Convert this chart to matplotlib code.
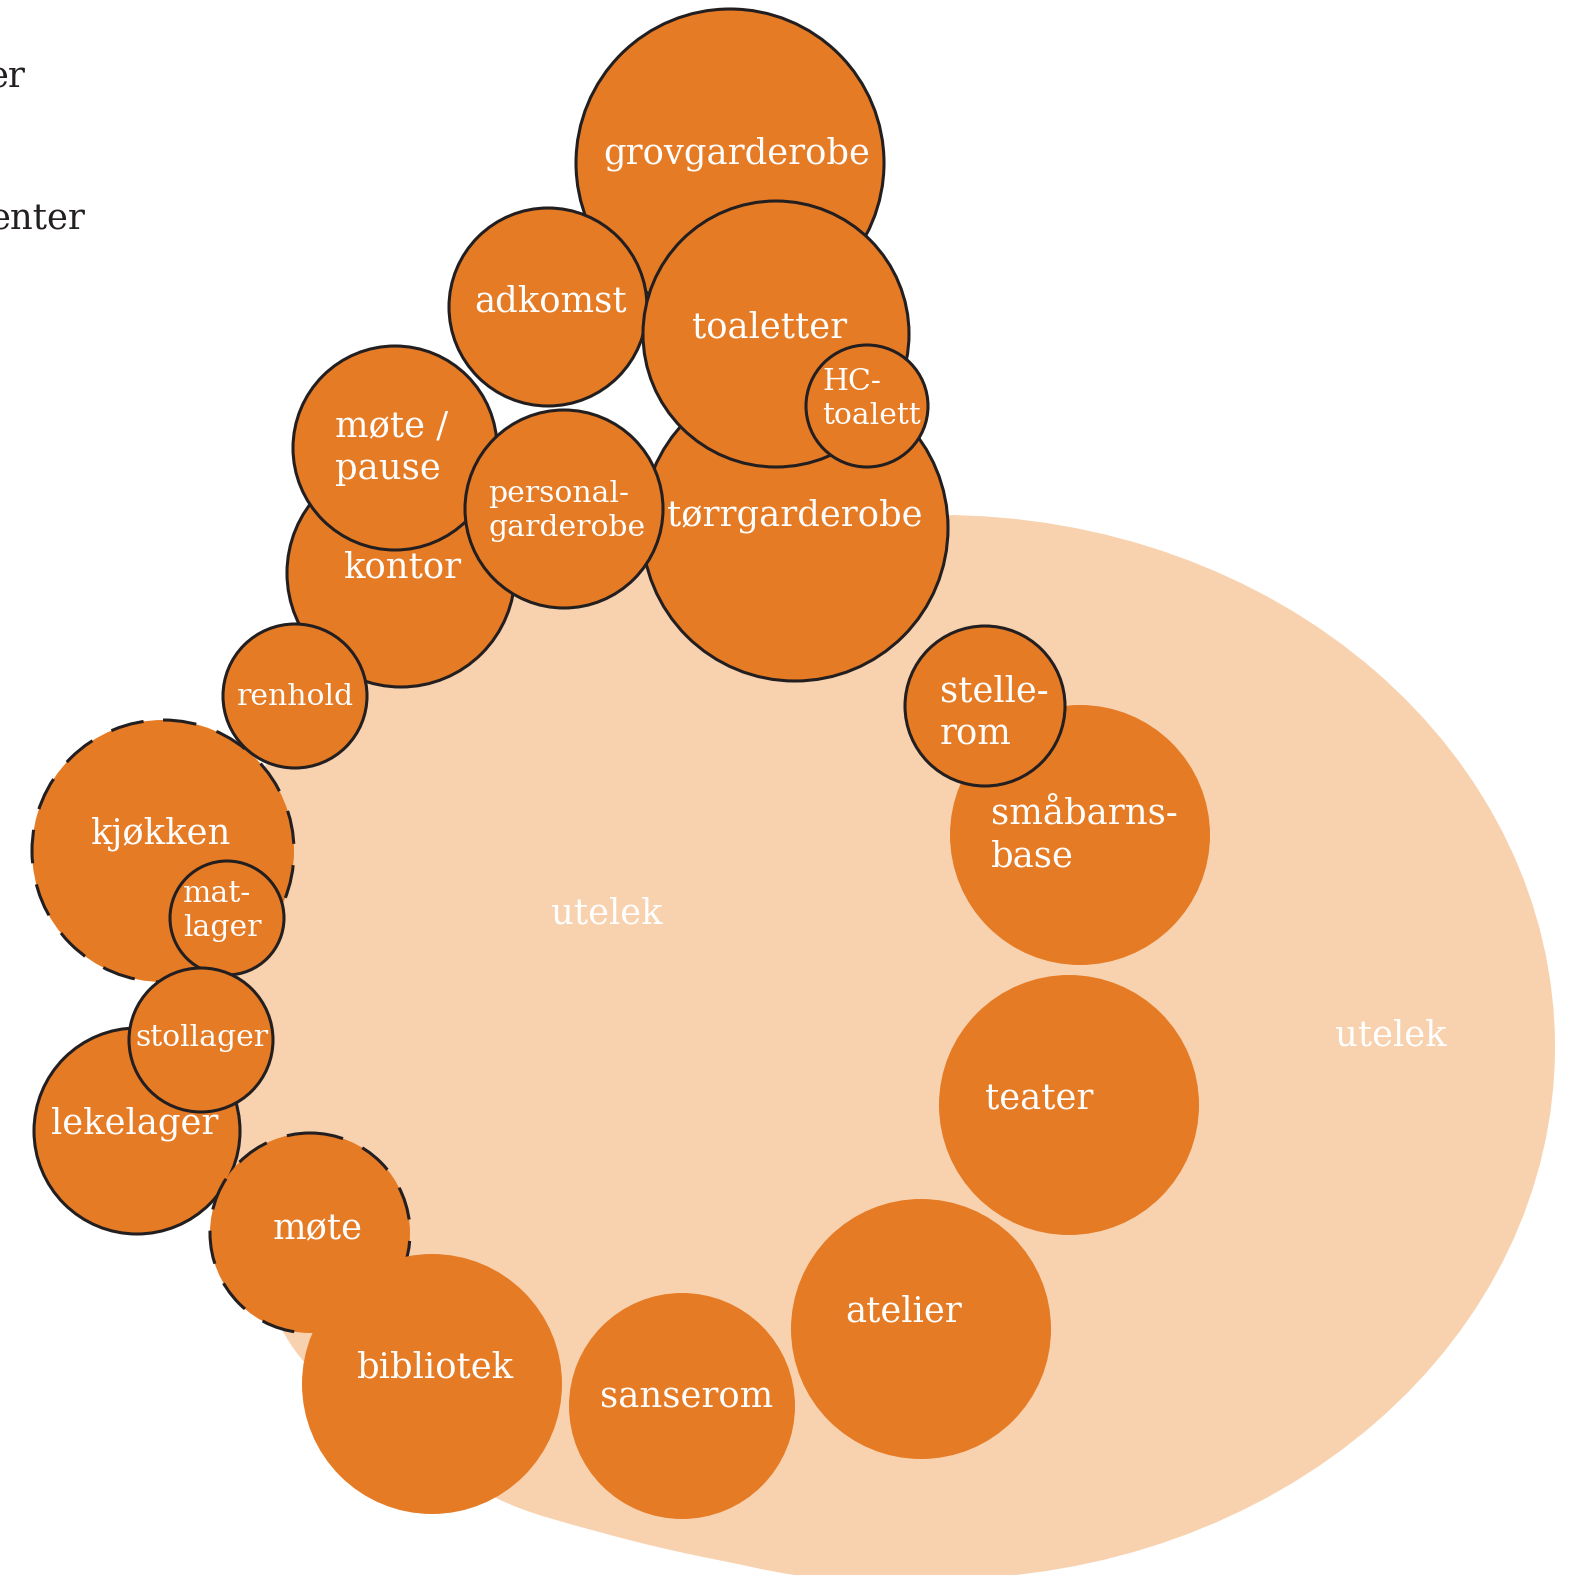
import numpy as np
import matplotlib.pyplot as plt
from matplotlib.patches import Circle, Ellipse, PathPatch
from matplotlib.path import Path

# rom: navn, sentrum, radius, kant
rom = ["grovgarderobe", "adkomst", "tørrgarderobe", "toaletter", "HC-toalett",
       "kontor", "møte / pause", "personalgarderobe", "kjøkken", "renhold",
       "matlager", "lekelager", "stollager", "møte", "bibliotek",
       "sanserom", "atelier", "teater", "småbarnsbase", "stellerom"]
rom_x = [730, 548, 795, 776, 867, 401, 395, 564, 163, 295,
         227, 137, 201, 310, 432, 682, 921, 1069, 1080, 985]
rom_y = [163, 307, 528, 334, 406, 573, 448, 509, 851, 696,
         918, 1131, 1040, 1233, 1384, 1406, 1329, 1105, 835, 706]
rom_r = [154, 99, 153, 133, 61, 114, 102, 99, 131, 72,
         57, 103, 72, 100, 130, 113, 130, 130, 130, 80]
kant = ["solid", "solid", "solid", "solid", "solid", "solid", "solid", "solid",
        "dashed", "solid", "solid", "solid", "solid", "dashed", "none",
        "none", "none", "none", "none", "solid"]

# tekster i sirklene
tekst = ["grovgarderobe", "adkomst", "tørrgarderobe", "toaletter", "HC-\ntoalett",
         "kontor", "møte /\npause", "personal-\ngarderobe", "kjøkken", "renhold",
         "mat-\nlager", "lekelager", "stollager", "møte", "bibliotek",
         "sanserom", "atelier", "teater", "småbarns-\nbase", "stelle-\nrom"]
tekst_x = [737, 551, 795, 770, 822, 403, 335, 488, 161, 295,
           183, 135, 202, 318, 435, 687, 904, 1039, 991, 940]
tekst_y = [154, 302, 516, 327, 399, 568, 448, 511, 834, 697,
           911, 1124, 1038, 1229, 1367, 1397, 1312, 1099, 835, 713]
tekst_ha = ["center", "center", "center", "center", "left",
            "center", "left", "left", "center", "center",
            "left", "center", "center", "center", "center",
            "center", "center", "center", "left", "left"]
liten = ["HC-toalett", "personalgarderobe", "renhold", "matlager", "stollager"]

# utelek-flaten: ellipse + utvidelse mot venstre/nede
ute_sentrum = (940, 1047)
ute_bredde = 1230
ute_hoyde = 1064
utv_x = [1000, 720, 520, 340, 268, 240, 232, 285, 390, 496, 603, 718, 833, 950]
utv_y = [1000, 530, 585, 640, 757, 950, 1150, 1335, 1430, 1498, 1533, 1560, 1578, 1560]
ute_tekst = ["utelek", "utelek"]
ute_tx = [607, 1391]
ute_ty = [914, 1036]

# avkuttet tekst til venstre
venstre = ["er", "enter"]
venstre_x = [25, 85]
venstre_y = [77, 220]

oransje = "#E67B25"
lys = "#F8D2AF"
mork = "#231F20"
font = ["DejaVu Serif"]

fig = plt.figure(figsize=(15.77, 15.75), dpi=100)
ax = fig.add_axes([0, 0, 1, 1])
ax.set_xlim(0, 1577)
ax.set_ylim(1575, 0)
ax.axis("off")

ax.add_patch(Ellipse(ute_sentrum, ute_bredde, ute_hoyde, facecolor=lys, edgecolor="none", zorder=1))

# glatt lukket kurve gjennom punktene (Catmull-Rom -> Bezier)
P = np.column_stack([utv_x, utv_y]).astype(float)
n = len(P)
verts = [P[0]]
codes = [Path.MOVETO]
for i in range(n):
    p0, p1, p2, p3 = P[i - 1], P[i], P[(i + 1) % n], P[(i + 2) % n]
    verts += [p1 + (p2 - p0) / 6, p2 - (p3 - p1) / 6, p2]
    codes += [Path.CURVE4] * 3
ax.add_patch(PathPatch(Path(verts, codes), facecolor=lys, edgecolor="none", zorder=1))

for i in range(len(rom)):
    if kant[i] == "none":
        c = Circle((rom_x[i], rom_y[i]), rom_r[i], facecolor=oransje, edgecolor="none", zorder=2 + i)
    else:
        ls = (0, (11, 7)) if kant[i] == "dashed" else "solid"
        c = Circle((rom_x[i], rom_y[i]), rom_r[i], facecolor=oransje, edgecolor=mork,
                   linewidth=2.2, linestyle=ls, zorder=2 + i)
    ax.add_patch(c)

for i in range(len(rom)):
    fs = 21.5 if rom[i] in liten else 25.5
    ax.text(tekst_x[i], tekst_y[i], tekst[i], color="white", fontsize=fs, family=font,
            ha=tekst_ha[i], va="center", linespacing=1.3, zorder=50)

for i in range(len(ute_tekst)):
    ax.text(ute_tx[i], ute_ty[i], ute_tekst[i], color="white", fontsize=25.5, family=font,
            ha="center", va="center", zorder=50)

for i in range(len(venstre)):
    ax.text(venstre_x[i], venstre_y[i], venstre[i], color=mork, fontsize=25.5, family=font,
            ha="right", va="center", zorder=50)

fig.savefig("out.png", dpi=100)
